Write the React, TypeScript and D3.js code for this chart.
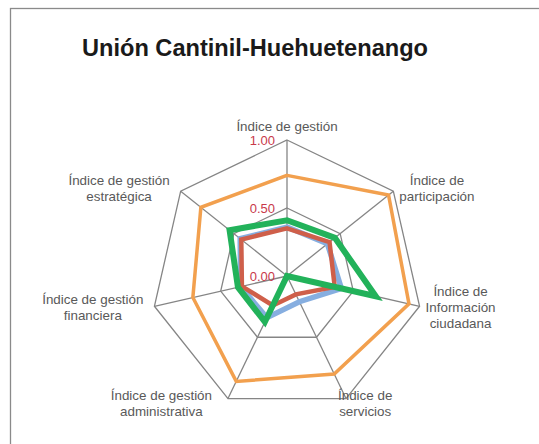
import React, { useEffect, useRef } from 'react';
import * as d3 from 'd3';

const title = 'Unión Cantinil-Huehuetenango';

// axes, clockwise from the top
const axisLabels = [
  ['Índice de gestión'],
  ['Índice de', 'participación'],
  ['Índice de', 'Información', 'ciudadana'],
  ['Índice de', 'servicios'],
  ['Índice de gestión', 'administrativa'],
  ['Índice de gestión', 'financiera'],
  ['Índice de gestión', 'estratégica'],
];

const tickValues = [0, 0.5, 1];
const gridValues = [0.5, 1];

const blueValues = [0.36, 0.38, 0.41, 0.21, 0.34, 0.35, 0.44];
const redValues = [0.35, 0.4, 0.36, 0.15, 0.24, 0.34, 0.43];
const orangeValues = [0.74, 0.955, 0.92, 0.8, 0.86, 0.71, 0.81];
const greenValues = [0.41, 0.45, 0.67, 0, 0.375, 0.37, 0.54];

const series = [
  { values: blueValues, color: '#86aee0', width: 5.5 },
  { values: redValues, color: '#cf5f4a', width: 4.5 },
  { values: orangeValues, color: '#f2a04e', width: 3.5 },
  { values: greenValues, color: '#22b25a', width: 6 },
];

const App = () => {
  const svgRef = useRef<SVGSVGElement>(null);

  useEffect(() => {
    const width = 539;
    const height = 444;
    const cx = 287;
    const cy = 276;
    const radius = 136;
    const n = axisLabels.length;
    const font = '"Liberation Sans", Arial, sans-serif';

    const svg = d3.select(svgRef.current);
    svg.selectAll('*').remove();
    svg.attr('width', width).attr('height', height);

    svg.append('rect')
      .attr('width', width)
      .attr('height', height)
      .attr('fill', '#fff');

    // chart frame (runs off the right and bottom edges)
    svg.append('rect')
      .attr('x', 10.5)
      .attr('y', 8.5)
      .attr('width', width)
      .attr('height', height)
      .attr('fill', 'none')
      .attr('stroke', '#8a8a8a')
      .attr('stroke-width', 1.3);

    svg.append('text')
      .attr('x', 255)
      .attr('y', 56)
      .attr('text-anchor', 'middle')
      .attr('font-family', font)
      .attr('font-weight', 'bold')
      .attr('font-size', 23.6)
      .attr('fill', '#1a1a1a')
      .text(title);

    const r = d3.scaleLinear().domain([0, 1]).range([0, radius]);
    const angle = d3.scaleLinear().domain([0, n]).range([0, 2 * Math.PI]);

    const g = svg.append('g').attr('transform', `translate(${cx},${cy})`);

    const idx = d3.range(n);
    const ring = d3.lineRadial<number>()
      .angle(i => angle(i))
      .curve(d3.curveLinearClosed);

    gridValues.forEach(v => {
      g.append('path')
        .attr('d', ring.radius(() => r(v))(idx))
        .attr('fill', 'none')
        .attr('stroke', '#858585')
        .attr('stroke-width', 1.3);
    });

    idx.forEach(i => {
      const a = angle(i);
      g.append('line')
        .attr('x1', 0)
        .attr('y1', 0)
        .attr('x2', r(1) * Math.sin(a))
        .attr('y2', -r(1) * Math.cos(a))
        .attr('stroke', '#858585')
        .attr('stroke-width', 1.3);
    });

    series.forEach(s => {
      const line = d3.lineRadial<number>()
        .angle((d, i) => angle(i))
        .radius(d => r(d))
        .curve(d3.curveLinearClosed);
      g.append('path')
        .attr('d', line(s.values))
        .attr('fill', 'none')
        .attr('stroke', s.color)
        .attr('stroke-width', s.width)
        .attr('stroke-linejoin', 'miter');
    });

    // value labels on the first axis
    g.selectAll('.tick')
      .data(tickValues)
      .enter().append('text')
      .attr('x', -12)
      .attr('y', d => -r(d))
      .attr('dy', '0.35em')
      .attr('text-anchor', 'end')
      .attr('font-family', font)
      .attr('font-size', 13)
      .attr('fill', '#c8394a')
      .text(d => d3.format('.2f')(d));

    // category labels
    const lineH = 16;
    axisLabels.forEach((lines, i) => {
      const a = angle(i);
      const dx = Math.sin(a);
      const dy = -Math.cos(a);
      const vx = r(1) * dx;
      const vy = r(1) * dy;
      let x = vx;
      let anchor = 'middle';
      let midY = vy + dy * 5;
      if (i === 0) {
        midY = vy - 14;
      } else if (Math.abs(dy) > 0.85) {
        anchor = dx > 0 ? 'start' : 'end';
        x = vx + (dx > 0 ? -8 : -16);
      } else {
        anchor = dx > 0 ? 'start' : 'end';
        x = vx + (dx > 0 ? 6 : -11);
      }
      const t = g.append('text')
        .attr('font-family', font)
        .attr('font-size', 13.4)
        .attr('fill', '#595959')
        .attr('text-anchor', 'middle');
      const tspans = lines.map((l, k) => t.append('tspan')
        .attr('x', 0)
        .attr('y', midY + (k - (lines.length - 1) / 2) * lineH)
        .attr('dy', '0.35em')
        .text(l));
      // widest line decides the block width; lines are centred in the block
      const w = d3.max(tspans, ts => (ts.node() as SVGTSpanElement).getComputedTextLength()) || 0;
      const center = anchor === 'start' ? x + w / 2 : anchor === 'end' ? x - w / 2 : x;
      tspans.forEach(ts => ts.attr('x', center));
    });
  }, []);

  return (
    <div>
      <style>{'body{margin:0}'}</style>
      <svg ref={svgRef} style={{ display: 'block' }}></svg>
    </div>
  );
};

export default App;
